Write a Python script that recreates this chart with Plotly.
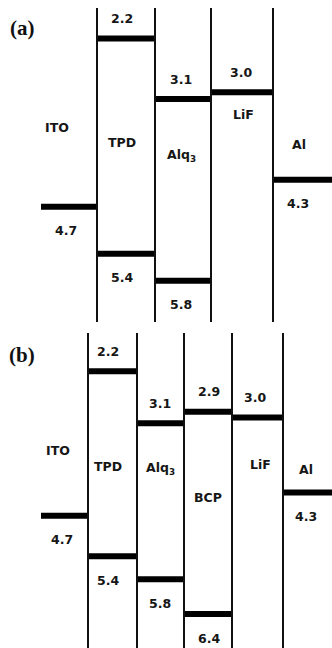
import plotly.graph_objects as go

# ---- energy-level data (eV) ----
# Device (a): ITO / TPD / Alq3 / LiF / Al
layers_a = ["ITO", "TPD", "Alq<sub>3</sub>", "LiF", "Al"]
upper_a = [None, 2.2, 3.1, 3.0, None]      # LUMO levels
lower_a = [4.7, 5.4, 5.8, None, 4.3]       # HOMO levels / work functions

# Device (b): ITO / TPD / Alq3 / BCP / LiF / Al
layers_b = ["ITO", "TPD", "Alq<sub>3</sub>", "BCP", "LiF", "Al"]
upper_b = [None, 2.2, 3.1, 2.9, 3.0, None]
lower_b = [4.7, 5.4, 5.8, 6.4, None, 4.3]

# ---- layout constants (pixels) ----
W, H = 332, 648
TXT = "#161616"
FONT = "DejaVu Sans"

panels = [
    dict(
        layers=layers_a, upper=upper_a, lower=lower_a, tag="(a)",
        yaxis="y", edges=[41, 97, 155, 211, 273, 332],
        px_top=0, px_bot=324, off=-109.6, scale=67.3,   # pixel = off + scale * eV
        line_top=8, line_bot=322,
        val_x=[66, 122, 181, 241, 298],
        name_x=[57, 122, 181, 243, 299],
        name_y=[127, 142, 155, 114, None], al_name_dy=-35,
        tag_y=28,
    ),
    dict(
        layers=layers_b, upper=upper_b, lower=lower_b, tag="(b)",
        yaxis="y2", edges=[41, 88, 137, 184, 232, 283, 332],
        px_top=324, px_bot=648, off=244.08, scale=57.8,
        line_top=333, line_bot=648,
        val_x=[62, 108, 160, 209, 255, 306],
        name_x=[58, 108, 160, 208, 260, 306],
        name_y=[450, 466, 468, 497, 464, None], al_name_dy=-23,
        tag_y=355,
    ),
]

fig = go.Figure()
shapes, annotations = [], []
layout_axes = {}

for p in panels:
    def to_val(px, p=p):
        return (px - p["off"]) / p["scale"]

    yref = p["yaxis"]
    axis_key = "yaxis" if yref == "y" else "yaxis2"
    layout_axes[axis_key] = dict(
        domain=[1 - p["px_bot"] / H, 1 - p["px_top"] / H],
        range=[to_val(p["px_bot"]), to_val(p["px_top"])],
        anchor="x", visible=False, fixedrange=True,
    )

    # energy-level bars
    xs, ys = [], []
    edges = p["edges"]
    for i, _ in enumerate(p["layers"]):
        for v in (p["upper"][i], p["lower"][i]):
            if v is None:
                continue
            xs += [edges[i], edges[i + 1], None]
            ys += [v, v, None]
    fig.add_trace(go.Scatter(
        x=xs, y=ys, mode="lines", yaxis=yref, xaxis="x",
        line=dict(color="#000000", width=6), hoverinfo="skip", showlegend=False,
    ))

    # layer boundaries
    for xe in edges[1:-1]:
        shapes.append(dict(
            type="line", xref="x", yref="paper", x0=xe, x1=xe,
            y0=1 - p["line_top"] / H, y1=1 - p["line_bot"] / H,
            line=dict(color="#111111", width=2),
        ))

    vfont = dict(family=FONT, size=12.5, color=TXT, weight="bold")

    # level value labels
    for i, _ in enumerate(p["layers"]):
        up, lo = p["upper"][i], p["lower"][i]
        if up is not None:
            annotations.append(dict(
                x=p["val_x"][i], y=up, xref="x", yref=yref, yshift=20,
                text=f"{up:.1f}", showarrow=False, font=vfont,
            ))
        if lo is not None:
            annotations.append(dict(
                x=p["val_x"][i], y=lo, xref="x", yref=yref, yshift=-24,
                text=f"{lo:.1f}", showarrow=False, font=vfont,
            ))

    # layer names
    for i, name in enumerate(p["layers"]):
        ny = p["name_y"][i]
        if ny is None:
            y, ys_ = p["lower"][i], -p["al_name_dy"]
        else:
            y, ys_ = to_val(ny), 0
        annotations.append(dict(
            x=p["name_x"][i], y=y, xref="x", yref=yref, yshift=ys_,
            text=name, showarrow=False, font=vfont,
        ))

    # panel tag
    annotations.append(dict(
        x=22, y=to_val(p["tag_y"]), xref="x", yref=yref,
        text=f"<b>{p['tag']}</b>", showarrow=False,
        font=dict(family="Liberation Serif", size=21, color="#111111"),
    ))

fig.update_layout(
    width=W, height=H,
    margin=dict(l=0, r=0, t=0, b=0),
    paper_bgcolor="white", plot_bgcolor="white",
    xaxis=dict(range=[0, W], visible=False, fixedrange=True, domain=[0, 1]),
    shapes=shapes, annotations=annotations, showlegend=False,
    **layout_axes,
)

fig.write_html("out.html", config={"displayModeBar": False})
